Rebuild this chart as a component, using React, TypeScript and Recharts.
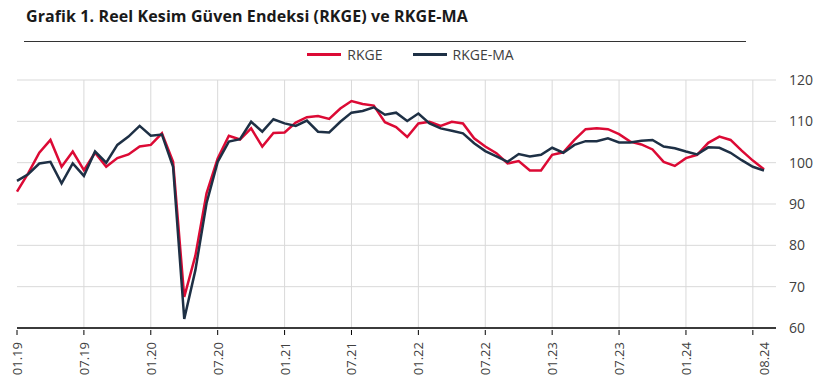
import { CartesianGrid, Line, LineChart, ReferenceLine, XAxis, YAxis } from "recharts";

const months = [
  "01.19", "02.19", "03.19", "04.19", "05.19", "06.19", "07.19", "08.19", "09.19", "10.19", "11.19", "12.19",
  "01.20", "02.20", "03.20", "04.20", "05.20", "06.20", "07.20", "08.20", "09.20", "10.20", "11.20", "12.20",
  "01.21", "02.21", "03.21", "04.21", "05.21", "06.21", "07.21", "08.21", "09.21", "10.21", "11.21", "12.21",
  "01.22", "02.22", "03.22", "04.22", "05.22", "06.22", "07.22", "08.22", "09.22", "10.22", "11.22", "12.22",
  "01.23", "02.23", "03.23", "04.23", "05.23", "06.23", "07.23", "08.23", "09.23", "10.23", "11.23", "12.23",
  "01.24", "02.24", "03.24", "04.24", "05.24", "06.24", "07.24", "08.24",
];

const rkge = [
  93.0, 97.4, 102.4, 105.5, 99.0, 102.7, 98.2, 102.4, 99.0, 101.1, 102.0, 103.9,
  104.3, 107.1, 100.2, 67.5, 77.5, 92.6, 101.0, 106.5, 105.6, 108.3, 103.9, 107.2,
  107.3, 109.7, 111.0, 111.3, 110.6, 113.1, 114.9, 114.2, 113.8, 109.8, 108.6, 106.2,
  109.5, 109.9, 108.9, 109.9, 109.5, 105.9, 103.9, 102.3, 99.8, 100.4, 98.1, 98.1,
  101.9, 102.5, 105.5, 108.1, 108.3, 108.1, 106.9, 105.1, 104.4, 103.2, 100.2, 99.2,
  101.1, 101.9, 104.8, 106.3, 105.5, 102.9, 100.5, 98.4,
];

const rkgeMa = [
  95.6, 97.2, 99.8, 100.2, 95.0, 99.8, 96.8, 102.7, 100.0, 104.3, 106.3, 108.9,
  106.5, 106.8, 99.0, 62.2, 74.0, 90.2, 100.2, 105.1, 105.7, 109.9, 107.5, 110.5,
  109.5, 108.9, 110.2, 107.5, 107.3, 109.9, 112.1, 112.5, 113.4, 111.6, 112.1, 110.1,
  111.9, 109.5, 108.3, 107.7, 107.1, 104.7, 102.8, 101.5, 100.2, 102.1, 101.5, 101.9,
  103.6, 102.4, 104.3, 105.2, 105.2, 105.9, 104.9, 104.9, 105.3, 105.5, 103.9, 103.5,
  102.7, 102.0, 103.7, 103.6, 102.4, 100.6, 99.0, 98.1,
];

// grid / tick marks every six months, label on the last month
const gridMonths = ["01.19", "07.19", "01.20", "07.20", "01.21", "07.21", "01.22", "07.22", "01.23", "07.23", "01.24", "07.24"];
const lastMonth = "08.24";
const yTicks = [60, 70, 80, 90, 100, 110, 120];

const RED = "#dc0a35";
const NAVY = "#1e3045";
const FONT = "'Open Sans', sans-serif";

const data = months.map((m, i) => ({ month: m, rkge: rkge[i], ma: rkgeMa[i] }));

function MonthTick(props: any) {
  const { x, y, payload } = props;
  const v = payload.value;
  return (
    <g>
      {v !== lastMonth && <line x1={x} x2={x} y1={y} y2={y + 5} stroke="#000" strokeWidth={1} />}
      {v !== "07.24" && (
        <text
          x={x}
          y={y + 12}
          transform={`rotate(-90 ${x} ${y + 12})`}
          textAnchor="end"
          dominantBaseline="central"
          fontSize={13}
          fill="#404040"
          fontFamily={FONT}
        >
          {v}
        </text>
      )}
    </g>
  );
}

function LegendBox() {
  const items = [
    { name: "RKGE", color: RED },
    { name: "RKGE-MA", color: NAVY },
  ];
  return (
    <div
      style={{
        position: "absolute",
        top: 45,
        left: 0,
        width: 821,
        display: "flex",
        justifyContent: "center",
        gap: 30,
        fontFamily: FONT,
        fontSize: 14,
        color: "#404040",
      }}
    >
      {items.map((it) => (
        <div key={it.name} style={{ display: "flex", alignItems: "center", gap: 6 }}>
          <span style={{ display: "inline-block", width: 34, height: 3, background: it.color }} />
          <span>{it.name}</span>
        </div>
      ))}
    </div>
  );
}

export default function App() {
  return (
    <div style={{ position: "absolute", left: 0, top: 0, width: 821, height: 384, background: "#fff" }}>
      <div
        style={{
          position: "absolute",
          left: 26,
          top: 5,
          fontFamily: FONT,
          fontWeight: 700,
          fontSize: 16,
          letterSpacing: 0.1,
          color: "#1a1a1a",
          whiteSpace: "nowrap",
        }}
      >
        Grafik 1. Reel Kesim Güven Endeksi (RKGE) ve RKGE-MA
      </div>
      <div style={{ position: "absolute", left: 24, top: 41, width: 722, height: 1, background: "#333" }} />
      <LegendBox />
      <div style={{ position: "absolute", left: 0, top: 0 }}>
        <LineChart
          width={821}
          height={384}
          data={data}
          margin={{ top: 80, right: 0, bottom: 0, left: 17 }}
        >
          <CartesianGrid vertical={false} stroke="#d9d9d9" strokeWidth={1} />
          {gridMonths.map((m) => (
            <ReferenceLine key={m} x={m} stroke="#d9d9d9" strokeWidth={1} />
          ))}
          <XAxis
            dataKey="month"
            type="category"
            scale="point"
            ticks={[...gridMonths, lastMonth]}
            interval={0}
            padding={{ left: 0, right: 12 }}
            height={56}
            tickSize={0}
            tickLine={false}
            axisLine={{ stroke: "#000", strokeWidth: 1.5 }}
            tick={<MonthTick />}
          />
          <YAxis
            orientation="right"
            domain={[60, 120]}
            ticks={yTicks}
            width={45}
            axisLine={false}
            tickLine={false}
            tickSize={0}
            tickMargin={13}
            tick={{ fontSize: 14, fill: "#404040", fontFamily: FONT, textAnchor: "start" }}
          />
          <Line dataKey="rkge" name="RKGE" stroke={RED} strokeWidth={2.5} dot={false} isAnimationActive={false} />
          <Line dataKey="ma" name="RKGE-MA" stroke={NAVY} strokeWidth={2.5} dot={false} isAnimationActive={false} />
        </LineChart>
      </div>
    </div>
  );
}
